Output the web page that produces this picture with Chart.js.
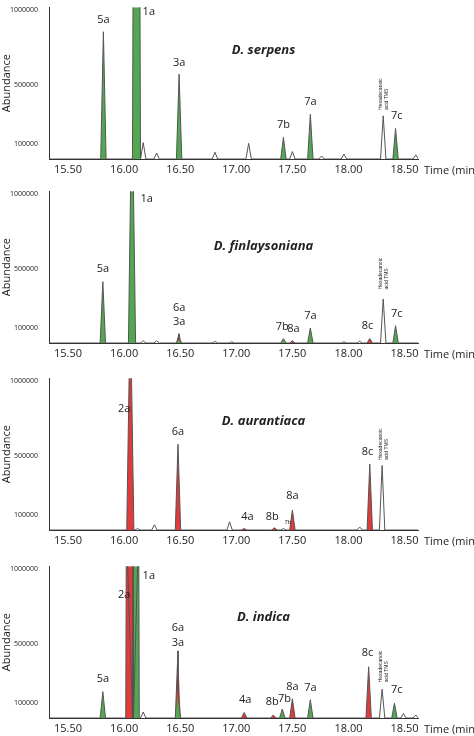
<!DOCTYPE html>
<html><head><meta charset="utf-8">
<script src="https://cdn.jsdelivr.net/npm/chart.js@4"></script>
<style>body{margin:0;width:474px;height:736px;overflow:hidden;background:#fff;position:relative}canvas{position:absolute;left:0}</style>
</head><body>
<canvas id="c0" width="474" height="184"></canvas><canvas id="c1" width="474" height="184"></canvas><canvas id="c2" width="474" height="184"></canvas><canvas id="c3" width="474" height="184"></canvas>
<script>
const G='#52a852', R='#e03a3a', N=null;
const xTicks=[15.5,16.0,16.5,17.0,17.5,18.0,18.5];
const yTicks=[100000,500000,1000000];
const titles=['D. serpens','D. finlaysoniana','D. aurantiaca','D. indica'];
// peaks: [time, abundance, fill colour (null = trace only), topHalfWidth, baseHalfWidth]
const peaks1=[[15.815,855000,G],[16.11,1300000,G,0.03,0.036],[16.17,110000,N],[16.29,40000,N],[16.49,570000,G],[16.81,45000,N],[17.11,105000,N],[17.42,145000,G],[17.50,50000,N],[17.66,300000,G],[17.76,20000,N],[17.96,33000,N],[18.31,290000,N],[18.42,205000,G],[18.60,28000,N]];
const peaks2=[[15.81,412000,G],[16.07,1300000,G,0.008,0.032],[16.17,15000,N],[16.29,15000,N],[16.49,62000,R],[16.49,25000,G],[16.81,10000,N],[16.96,8000,N],[17.42,29000,G],[17.50,15000,R],[17.66,101000,G],[17.96,8000,N],[18.10,12000,N],[18.19,30000,R],[18.31,296000,N],[18.42,116000,G]];
const peaks3=[[16.055,1300000,R,0.005,0.032],[16.12,10000,N],[16.27,35000,N],[16.48,576000,R],[16.94,55000,N],[17.07,10000,R],[17.34,15000,R],[17.42,10000,N],[17.50,134000,R],[18.10,20000,N],[18.19,444000,R],[18.30,434000,N]];
const peaks4=[[15.81,177000,G],[16.05,1300000,R,0.03,0.036],[16.105,1300000,G,0.025,0.03],[16.17,40000,N],[16.48,451000,R],[16.48,167000,G],[17.07,37000,R],[17.33,20000,R],[17.41,60000,G],[17.50,129000,R],[17.66,122000,G],[18.18,344000,R],[18.30,193000,N],[18.41,100000,G],[18.49,30000,N],[18.60,20000,N]];
// labels: [text, time, abundance]
const labels1=[['5a',15.815,900000],['1a',16.22,950000],['3a',16.49,610000],['7b',17.42,190000],['7a',17.66,345000],['7c',18.43,250000]];
const labels2=[['5a',15.81,460000],['1a',16.20,930000],['6a',16.49,200000],['3a',16.49,105000],['7b',17.41,70000],['8a',17.51,55000],['7a',17.66,145000],['8c',18.17,75000],['7c',18.43,160000]];
const labels3=[['2a',16.0,780000],['6a',16.48,620000],['4a',17.10,50000],['8b',17.32,50000],['8a',17.50,190000],['8c',18.17,490000]];
const labels4=[['5a',15.81,225000],['2a',16.0,790000],['1a',16.22,920000],['6a',16.48,570000],['3a',16.48,470000],['4a',17.08,85000],['8b',17.32,70000],['7b',17.43,90000],['8a',17.50,175000],['7a',17.66,165000],['8c',18.17,400000],['7c',18.43,150000]];
const hexPos=[[18.31,330000],[18.31,360000],[18.31,470000],[18.31,240000]];
const small7b=[N,N,[17.46,30000],N];
const allPeaks=[peaks1,peaks2,peaks3,peaks4], allLabels=[labels1,labels2,labels3,labels4];
const tops=[0,184,371,559];

function shape(p){const t=p[0],h=p[1],th=p[3]||0,bh=p[4]||0.024;
  return th>0?[{x:t-bh,y:0},{x:t-th,y:h},{x:t+th,y:h},{x:t+bh,y:0}]:[{x:t-bh,y:0},{x:t,y:h},{x:t+bh,y:0}];}
function trace(pk){const s=[...pk].sort((a,b)=>a[0]-b[0]);let pts=[{x:15.33,y:0}];
  s.forEach(p=>pts.push(...shape(p)));pts.push({x:18.63,y:0});pts.sort((a,b)=>a.x-b.x);return pts;}

allPeaks.forEach((pk,i)=>{
  const cv=document.getElementById('c'+i);cv.style.top=tops[i]+'px';
  const ds=[{data:trace(pk),borderColor:'#555',borderWidth:1,pointRadius:0,fill:false,order:0,tension:0}];
  pk.forEach(p=>{if(p[2]){const maxH=pk.filter(q=>q[0]===p[0]).reduce((m,q)=>Math.max(m,q[1]),0);
    ds.push({data:shape(p),borderWidth:0,pointRadius:0,fill:'origin',backgroundColor:p[2],order:p[1]<maxH?1:2});}});
  const plug={id:'lab'+i,afterDatasetsDraw(c){const x=c.scales.x,y=c.scales.y,ctx=c.ctx,a=c.chartArea;ctx.save();
    ctx.fillStyle='#222';ctx.font='11px "Open Sans", sans-serif';ctx.textAlign='center';ctx.textBaseline='bottom';
    allLabels[i].forEach(l=>ctx.fillText(l[0],x.getPixelForValue(l[1]),y.getPixelForValue(l[2])));
    if(small7b[i]){ctx.font='6px sans-serif';ctx.fillText('7b',x.getPixelForValue(small7b[i][0]),y.getPixelForValue(small7b[i][1]));}
    ctx.font='bold italic 13px "Open Sans", sans-serif';ctx.fillText(titles[i],(a.left+a.right)/2+30,a.top+(i==3?58:i==1?62:50));
    ctx.font='11px "Open Sans", sans-serif';ctx.textAlign='left';ctx.textBaseline='middle';ctx.fillText('Time (min)',a.right+6,a.bottom+12);
    const hx=x.getPixelForValue(hexPos[i][0]),hy=y.getPixelForValue(hexPos[i][1]);
    ctx.translate(hx,hy);ctx.rotate(-Math.PI/2);ctx.font='5px sans-serif';ctx.textAlign='left';ctx.textBaseline='middle';
    ctx.fillText('Hexadecanoic',0,-3);ctx.fillText('acid TMS',0,3);ctx.restore();}};
  new Chart(cv,{type:'line',data:{datasets:ds},plugins:[plug],options:{responsive:false,animation:false,
    layout:{padding:{top:4,right:56,left:0,bottom:0}},plugins:{legend:{display:false},tooltip:{enabled:false}},
    scales:{x:{type:'linear',min:15.33,max:18.62,grid:{display:false,drawTicks:false},border:{color:'#333'},
        afterBuildTicks(s){s.ticks=xTicks.map(v=>({value:v}));},afterFit(s){s.height=25;},
        ticks:{color:'#222',font:{size:11,family:'"Open Sans", sans-serif'},padding:4,maxRotation:0,callback:v=>v.toFixed(2)}},
      y:{min:0,max:1020000,grid:{display:false},border:{color:'#333'},
        afterBuildTicks(s){s.ticks=yTicks.map(v=>({value:v}));},afterFit(s){s.width=49;},
        title:{display:true,text:'Abundance',color:'#222',font:{size:11,family:'"Open Sans", sans-serif'},padding:0},
        ticks:{color:'#222',font:{size:7,family:'"Open Sans", sans-serif'},padding:3,callback:v=>String(v)}}}}});
});
</script>
</body></html>
